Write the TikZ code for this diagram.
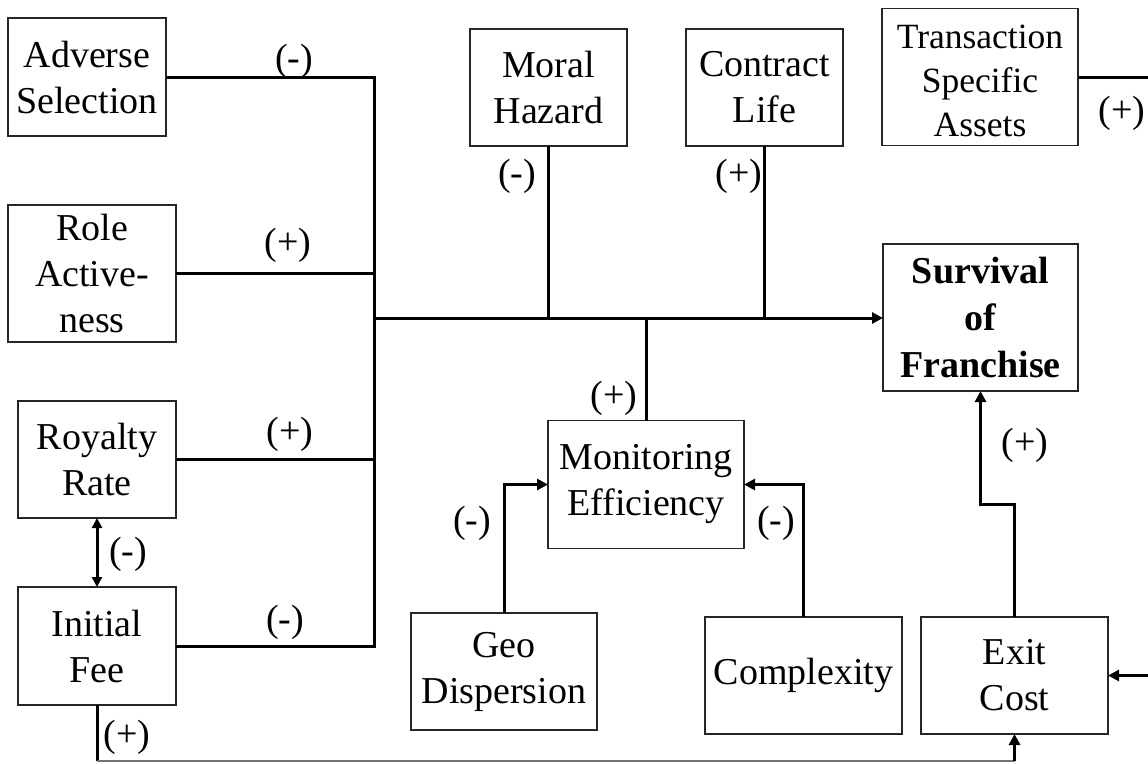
\documentclass[tikz,border=0pt]{standalone}
\usepackage{fontspec}
\setmainfont{Liberation Serif}
\usetikzlibrary{arrows.meta}
\begin{document}
\begin{tikzpicture}[x=1pt,y=-1pt,
  box/.style={draw=black!85,line width=1.2pt,inner sep=0pt,outer sep=0pt,
    align=center,font=\fontsize{38}{46}\selectfont},
  conn/.style={line width=3pt,black},
  tip/.style={-{Triangle[length=11pt,width=11pt]}},
  tips/.style={{Triangle[length=10pt,width=10pt]}-{Triangle[length=10pt,width=10pt]}},
  sign/.style={inner sep=0pt,font=\fontsize{38}{46}\selectfont},
  thinline/.style={line width=1.5pt,black!55}]
\useasboundingbox (0,0) rectangle (1148,763);
\fill[white] (0,0) rectangle (1148,763);

% factor boxes
\node[box,minimum width=158pt,minimum height=118pt] (adv) at (87,77) {Adverse\\Selection};
\node[box,minimum width=168pt,minimum height=137pt] (role) at (92,273.5) {Role\\Active-\\ness};
\node[box,minimum width=158pt,minimum height=117pt] (roy) at (97,459.5) {Royalty\\Rate};
\node[box,minimum width=158pt,minimum height=118pt] (ini) at (97,646) {Initial\\Fee};
\node[box,minimum width=157pt,minimum height=117pt] (moral) at (548.5,87.5) {Moral\\Hazard};
\node[box,minimum width=157pt,minimum height=117pt] (life) at (764.5,87.5) {Contract\\Life};
\node[box,minimum width=196pt,minimum height=137pt,font=\fontsize{35.5}{44}\selectfont] (tsa) at (980,77) {\rule{0pt}{32pt}Transaction\\Specific\\Assets};
\node[box,minimum width=195pt,minimum height=147pt,font=\fontsize{38}{47}\selectfont\bfseries] (surv) at (980.5,317.5) {Survival\\of\\Franchise};
\node[box,minimum width=196pt,minimum height=128pt] (mon) at (646,484.5) {Monitoring\\Efficiency};
\node[box,minimum width=186pt,minimum height=117pt] (geo) at (504,671.5) {Geo\\Dispersion};
\node[box,minimum width=197pt,minimum height=117pt] (cx) at (803.5,675.5) {Complexity};
\node[box,minimum width=187pt,minimum height=117pt] (exit) at (1014.5,675.5) {Exit\\Cost};

% helper coordinates
\coordinate (bus) at (374,318);
\coordinate (edge) at (1148,0);
\coordinate (bot) at (0,761);
\coordinate (jog) at (0,504);

% left-hand bus feeding the main line
\draw[conn] (adv.east) -| (ini.east -| bus) -- (ini.east);
\draw[conn] (role.east) -- (role.east -| bus);
\draw[conn] (roy.east) -- (roy.east -| bus);
\draw[conn,tip] (bus) -- (bus -| surv.west);

% drops onto the main line
\draw[conn] (moral.south) -- (moral.south |- bus);
\draw[conn] (life.south) -- (life.south |- bus);
\draw[conn] (mon.north) -- (mon.north |- bus);

% monitoring inputs
\draw[conn,tip] (geo.north) |- (mon.west);
\draw[conn,tip] (cx.north) |- (mon.east);

% royalty / fee trade-off
\draw[conn,tips] (roy.south) -- (ini.north);

% exit cost links
\draw[conn] (tsa.east) -- (tsa.east -| edge);
\draw[conn,tip] (exit.east -| edge) -- (exit.east);
\draw[conn,tip] (exit.north) -- (exit.north |- jog) -| (surv.south);
\draw[conn] (ini.south) -- (ini.south |- bot);
\draw[thinline] (ini.south |- bot) -- (exit.south |- bot);
\draw[conn,tip] (exit.south |- bot) -- (exit.south);

% signs
\node[sign] (s1) at (294,61) {(-)};
\node[sign] (s2) at (288,245) {(+)};
\node[sign] (s3) at (290,434) {(+)};
\node[sign] (s4) at (285,622) {(-)};
\node[sign] (s5) at (128,554) {(-)};
\node[sign] (s6) at (127,737) {(+)};
\node[sign] (s7) at (517,176) {(-)};
\node[sign] (s8) at (739,176) {(+)};
\node[sign] (s9) at (1122,113) {(+)};
\node[sign] (s10) at (614,398) {(+)};
\node[sign] (s11) at (472,523) {(-)};
\node[sign] (s12) at (776,523) {(-)};
\node[sign] (s13) at (1025,445) {(+)};
\end{tikzpicture}
\end{document}
